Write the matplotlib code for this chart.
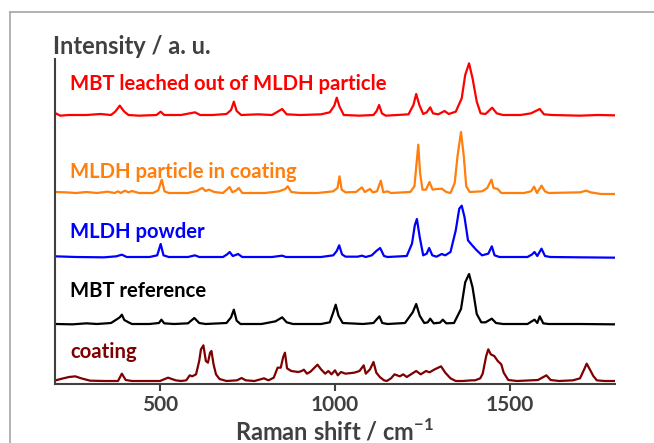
import numpy as np
import matplotlib
matplotlib.use("Agg")
import matplotlib.pyplot as plt
from matplotlib.lines import Line2D

plt.rcParams["font.family"] = ["Lato", "DejaVu Sans"]
plt.rcParams["mathtext.fontset"] = "custom"
plt.rcParams["mathtext.rm"] = "Lato"
plt.rcParams["mathtext.bf"] = "Lato:bold"

# Raman spectra: (shift / cm-1, intensity / a.u.)
mbt_leached = [
    (202, 5), (215, -2), (240, 0), (290, 0), (330, 3), (360, 0), (372, 10), (385, 28),
    (398, 10), (410, 0), (440, -2), (490, 0), (502, 10), (512, 0), (560, 0), (600, 8),
    (615, 0), (650, 0), (690, 3), (703, 15), (711, 40), (719, 12), (732, 0), (780, 2),
    (820, 0), (849, 18), (862, 2), (900, 0), (960, 2), (985, 8), (998, 28), (1005, 52),
    (1013, 25), (1025, 0), (1070, -2), (1110, 0), (1119, 12), (1126, 30), (1134, 5),
    (1145, -2), (1210, 2), (1224, 30), (1232, 63), (1241, 30), (1252, 3), (1262, 8),
    (1272, 23), (1280, 5), (1295, 2), (1313, 12), (1325, 3), (1345, 10), (1362, 50),
    (1372, 120), (1383, 155), (1393, 110), (1405, 40), (1416, 5), (1430, 3), (1449, 22),
    (1462, 5), (1480, 0), (1530, 0), (1560, 5), (1585, 18), (1597, 2), (1620, 0),
    (1700, -2), (1750, 0), (1800, -1),
]
mldh_particle = [
    (202, 3), (230, 2), (260, 0), (290, 3), (320, 0), (350, 4), (370, 0), (380, 5),
    (388, 0), (400, 7), (410, 2), (420, 6), (440, 0), (480, 0), (495, 8), (505, 40),
    (513, 5), (525, 0), (580, 0), (605, 6), (615, 12), (621, 15), (630, 6), (640, 10),
    (655, 3), (680, 0), (699, 18), (707, 2), (718, 8), (725, 15), (735, 0), (800, 0),
    (840, 5), (858, 12), (865, 20), (875, 3), (900, 0), (950, 0), (995, 5), (1007, 15),
    (1013, 50), (1019, 10), (1030, 2), (1060, 3), (1077, 17), (1085, 3), (1100, 12),
    (1108, 2), (1120, 5), (1131, 37), (1138, 2), (1150, 5), (1160, 0), (1215, 3),
    (1227, 20), (1234, 100), (1238, 145), (1243, 60), (1250, 10), (1260, 10), (1270, 33),
    (1279, 10), (1290, 12), (1305, 13), (1318, 3), (1330, 0), (1342, 30), (1350, 110),
    (1360, 183), (1368, 110), (1375, 20), (1385, 3), (1420, 5), (1435, 15), (1447, 40),
    (1453, 15), (1465, 12), (1475, 0), (1540, 0), (1560, 5), (1569, 19), (1577, 0),
    (1590, 22), (1600, 5), (1610, 0), (1700, 2), (1718, 7), (1730, 2), (1760, -3),
    (1800, -3),
]
mldh_powder = [
    (202, 2), (260, 0), (340, -1), (375, 2), (391, 7), (405, 0), (470, 0), (492, 5),
    (502, 39), (510, 5), (525, 0), (580, 0), (600, 5), (612, 0), (680, 0), (692, 8),
    (699, 15), (708, 3), (716, 6), (723, 9), (735, 0), (820, 0), (849, 4), (860, 0),
    (960, 0), (995, 5), (1005, 18), (1012, 35), (1020, 8), (1030, 1), (1065, 1),
    (1077, 4), (1088, 0), (1105, 5), (1118, 18), (1129, 27), (1140, 3), (1150, 0),
    (1205, 3), (1220, 40), (1228, 95), (1234, 114), (1242, 60), (1252, 5), (1262, 10),
    (1269, 27), (1278, 5), (1290, 1), (1305, 9), (1315, 5), (1330, 15), (1345, 80),
    (1355, 145), (1362, 154), (1370, 120), (1380, 50), (1392, 35), (1403, 22), (1420, 5),
    (1438, 10), (1448, 32), (1456, 5), (1470, 0), (1550, 0), (1562, 7), (1570, 15),
    (1578, 3), (1590, 25), (1600, 3), (1615, 0), (1700, -1), (1800, -2),
]
mbt_reference = [
    (202, 0), (250, -1), (290, 2), (320, 0), (360, 3), (375, 13), (385, 20), (391, 28),
    (398, 12), (410, 5), (420, 0), (470, 0), (497, 3), (504, 13), (512, 2), (540, 0),
    (580, 2), (598, 18), (612, 3), (630, 0), (690, 3), (703, 20), (711, 43), (719, 10),
    (730, 0), (790, 0), (830, 8), (849, 20), (862, 5), (880, 0), (960, 0), (985, 5),
    (995, 35), (1002, 58), (1010, 25), (1022, 3), (1080, 0), (1110, 3), (1120, 15),
    (1127, 23), (1135, 3), (1150, 0), (1200, 3), (1222, 35), (1232, 60), (1242, 25),
    (1255, 3), (1265, 5), (1272, 16), (1282, 2), (1300, 4), (1308, 13), (1318, 2),
    (1340, 3), (1360, 45), (1372, 125), (1383, 150), (1393, 110), (1405, 30), (1418, 5),
    (1430, 5), (1448, 16), (1460, 3), (1480, 0), (1550, 0), (1570, 13), (1578, 3),
    (1585, 23), (1595, 2), (1610, 0), (1700, 0), (1800, -1),
]
coating = [
    (202, 2), (220, 7), (240, 12), (258, 14), (275, 8), (300, 1), (340, 0), (380, 0),
    (391, 22), (402, 3), (420, 0), (500, 0), (523, 10), (545, 2), (560, 0), (575, 2),
    (585, 17), (592, 14), (603, 20), (612, 60), (617, 95), (624, 107), (631, 60),
    (637, 55), (643, 85), (647, 90), (653, 50), (660, 20), (670, 6), (690, 0), (720, 2),
    (733, 9), (745, 2), (770, 0), (797, 8), (810, 2), (825, 10), (836, 40), (845, 40),
    (852, 72), (857, 85), (863, 38), (875, 30), (895, 27), (905, 30), (911, 34),
    (920, 22), (930, 28), (950, 49), (960, 35), (972, 22), (981, 30), (990, 20),
    (1000, 32), (1008, 17), (1017, 27), (1030, 22), (1055, 25), (1070, 30), (1082, 47),
    (1088, 22), (1100, 35), (1110, 57), (1118, 25), (1128, 12), (1140, 2), (1148, 0),
    (1160, 8), (1170, 20), (1185, 14), (1195, 20), (1205, 12), (1220, 22), (1232, 30),
    (1245, 20), (1260, 30), (1270, 26), (1285, 35), (1295, 40), (1303, 44), (1315, 25),
    (1330, 8), (1345, 0), (1365, 0), (1390, 2), (1400, 2), (1415, 8), (1422, 22),
    (1432, 75), (1438, 95), (1445, 80), (1455, 75), (1465, 60), (1475, 50), (1482, 25),
    (1495, 3), (1520, 0), (1580, 3), (1604, 17), (1616, 3), (1640, 0), (1680, 2),
    (1700, 8), (1712, 35), (1719, 52), (1728, 35), (1738, 15), (1748, 2), (1770, 0),
    (1800, 0),
]

spectra = [mbt_leached, mldh_particle, mldh_powder, mbt_reference, coating]
names = [
    "MBT leached out of MLDH particle",
    "MLDH particle in coating",
    "MLDH powder",
    "MBT reference",
    "coating",
]
offsets = [269, 191, 127, 60, 3]
label_y = [294, 206, 146, 87, 26]
colors = ["#ff0000", "#ff7f0e", "#0000ff", "#000000", "#7f0000"]
scale = 1 / 3.0

fig = plt.figure(figsize=(6.54, 4.43), dpi=100)
# grey frame of the original slide: only its left and top edges are in view
fx, fy = 9.5 / 654, 1 - 11.5 / 443
fig.lines.append(Line2D([fx, fx], [0, fy], transform=fig.transFigure,
                        color="#a6a6a6", lw=1.2))
fig.lines.append(Line2D([fx, 1], [fy, fy], transform=fig.transFigure,
                        color="#a6a6a6", lw=1.2))

ax = fig.add_axes([55 / 654, 1 - 384 / 443, 560 / 654, 325 / 443])

for data, name, off, ly, c in zip(spectra, names, offsets, label_y, colors):
    arr = np.array(data, dtype=float)
    ax.plot(arr[:, 0], off + arr[:, 1] * scale, color=c, lw=1.6, solid_joinstyle="round")
    ax.text(243, ly, name, color=c, fontsize=14.6, fontweight="bold", va="baseline")

ax.set_xlim(200, 1800)
ax.set_ylim(0, 325)
ax.set_xticks([500, 1000, 1500])
ax.set_yticks([])
for s in ["top", "right"]:
    ax.spines[s].set_visible(False)
for s in ["left", "bottom"]:
    ax.spines[s].set_color("#404040")
    ax.spines[s].set_linewidth(1.5)
ax.tick_params(axis="x", direction="out", length=5, width=1.5, color="#404040",
               labelsize=15, labelcolor="#404040", pad=3)
for lab in ax.get_xticklabels():
    lab.set_fontweight("bold")

ax.set_xlabel(r"Raman shift / cm$^{\mathbf{-1}}$", fontsize=17, fontweight="bold",
              color="#404040", labelpad=2)
fig.text(53 / 654, 1 - 46 / 443, "Intensity / a. u.", fontsize=17, fontweight="bold",
         color="#404040", va="center", ha="left")

fig.savefig("out.png", dpi=100)
